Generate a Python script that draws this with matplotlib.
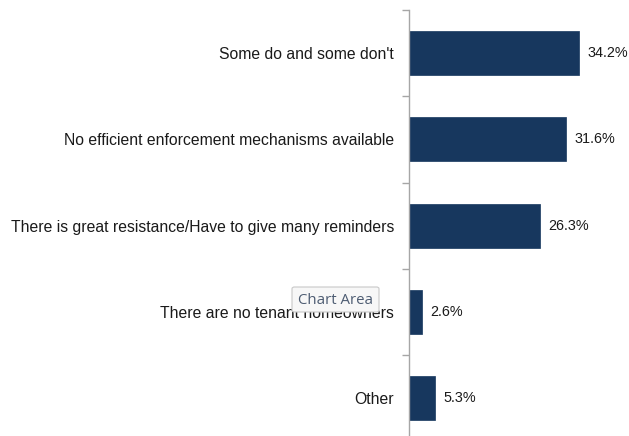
import matplotlib
matplotlib.use("Agg")
import matplotlib.pyplot as plt
from matplotlib.patches import FancyBboxPatch

plt.rcParams['font.family'] = ['Liberation Sans', 'DejaVu Sans']

categories = [
    "Some do and some don't",
    "No efficient enforcement mechanisms available",
    "There is great resistance/Have to give many reminders",
    "There are no tenant homeowners",
    "Other",
]
values = [34.2, 31.6, 26.3, 2.6, 5.3]
value_labels = ["34.2%", "31.6%", "26.3%", "2.6%", "5.3%"]

W, H = 629, 436
fig = plt.figure(figsize=(W / 100, H / 100), dpi=100)

# plot area: category axis at x=409 px, first band starts at y=10 px
left_px, top_px = 409, 10
band_px = 86.3
n = len(categories)
bottom_px = top_px + band_px * n
ax = fig.add_axes([left_px / W, 1 - bottom_px / H, (W - left_px) / W, (bottom_px - top_px) / H])

px_per_unit = 4.98
pos = list(range(n))
ax.barh(pos, values, height=0.51, color='#17375E', edgecolor='#17375E', linewidth=0.5)
ax.set_ylim(n - 0.5, -0.5)
ax.set_xlim(0, (W - left_px) / px_per_unit)

for p, v, lab in zip(pos, values, value_labels):
    ax.text(v + 8 / px_per_unit, p, lab, va='center', ha='left', fontsize=10.4,
            color='#1a1a1a', clip_on=False)

ax.set_yticks(pos)
ax.set_yticklabels(categories, fontsize=11.3, color='#1a1a1a')
ax.tick_params(axis='y', which='major', length=0, pad=10.8)
ax.set_yticks([i - 0.5 for i in range(n + 1)], minor=True)
ax.tick_params(axis='y', which='minor', length=5, width=1, color='#a6a6a6')
ax.set_xticks([])

for s in ('top', 'right', 'bottom'):
    ax.spines[s].set_visible(False)
ax.spines['left'].set_color('#a6a6a6')
ax.spines['left'].set_linewidth(1)

# hover tooltip box
box = FancyBboxPatch((292 / W, 1 - 312 / H), 87 / W, 25 / H,
                     boxstyle='round,pad=0,rounding_size=0.004',
                     transform=fig.transFigure, facecolor='#f7f7f7',
                     edgecolor='#c8c8c8', linewidth=0.8, zorder=10)
fig.patches.append(box)
fig.text(335 / W, 1 - 300 / H, "Chart Area", ha='center', va='center',
         fontsize=10.8, color='#4d5c72', zorder=11,
         family=['Open Sans', 'DejaVu Sans'])

fig.savefig('out.png', dpi=100)
